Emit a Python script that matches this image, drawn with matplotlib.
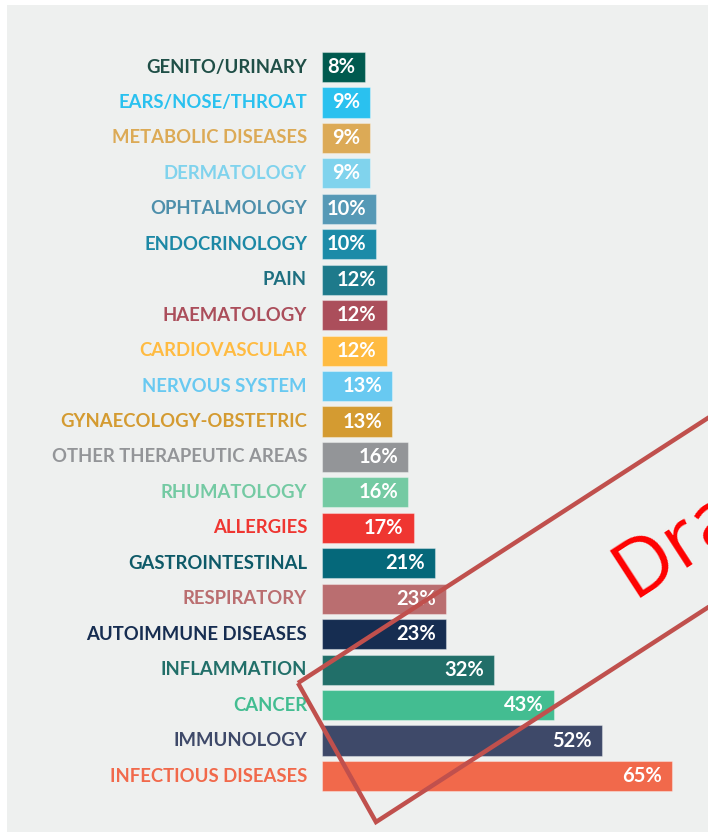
import matplotlib
matplotlib.use("Agg")
import matplotlib.pyplot as plt
import matplotlib.transforms as mtransforms
from matplotlib.patches import Rectangle, Polygon
import numpy as np

categories = [
    "GENITO/URINARY", "EARS/NOSE/THROAT", "METABOLIC DISEASES", "DERMATOLOGY",
    "OPHTALMOLOGY", "ENDOCRINOLOGY", "PAIN", "HAEMATOLOGY", "CARDIOVASCULAR",
    "NERVOUS SYSTEM", "GYNAECOLOGY-OBSTETRIC", "OTHER THERAPEUTIC AREAS",
    "RHUMATOLOGY", "ALLERGIES", "GASTROINTESTINAL", "RESPIRATORY",
    "AUTOIMMUNE DISEASES", "INFLAMMATION", "CANCER", "IMMUNOLOGY",
    "INFECTIOUS DISEASES",
]
values = [8, 9, 9, 9, 10, 10, 12, 12, 12, 13, 13, 16, 16, 17, 21, 23, 23, 32, 43, 52, 65]
bar_colors = [
    "#005a4f", "#2ac1ef", "#dcaa56", "#80d3ed", "#5699b6", "#1c8ba8", "#1e7a8b",
    "#ab4e5b", "#ffbb41", "#68c9f1", "#d49b31", "#939598", "#74caa3", "#ef3631",
    "#05687a", "#ba6e70", "#162d51", "#216f69", "#43bd91", "#3e4969", "#f1694b",
]
label_colors = [
    "#1f4f47", "#2ac1ef", "#dcaa56", "#80d3ed", "#4d8fab", "#1c88a5", "#1e6f80",
    "#ab4e5b", "#ffbb41", "#68c9f1", "#d49b31", "#939598", "#74caa3", "#ef3631",
    "#0e5a68", "#ba6e70", "#162d51", "#216f69", "#43bd91", "#3e4969", "#f1694b",
]

W, H = 708, 832
fig = plt.figure(figsize=(W / 100, H / 100), dpi=100)
fig.patch.set_facecolor("white")

def px(x, y):
    return (x / W, 1 - y / H)

# light gray panel
fig.patches.append(Rectangle(px(7, 832), (W - 7) / W, (832 - 5) / H,
                             transform=fig.transFigure, facecolor="#eef0ef",
                             edgecolor="none", zorder=-5))

ax = fig.add_axes([0, 0, 1, 1], zorder=1)
ax.set_facecolor("none")
scale = 5.385  # px per percent
ax.set_xlim(-322 / scale, (W - 322) / scale)
step = 35.45
ax.set_ylim((H - 67) / step, -67 / step)
ax.axis("off")

ypos = list(range(len(categories)))
ax.barh(ypos, values, height=0.85, color=bar_colors,
        edgecolor=(1, 1, 1, 0.35), linewidth=0.8, zorder=2)

font = "Lato"
lab_tr = mtransforms.offset_copy(ax.transData, fig=fig, x=-15, y=0, units="dots")
val_tr = mtransforms.offset_copy(ax.transData, fig=fig, x=-10, y=0, units="dots")
for i, (c, v) in enumerate(zip(categories, values)):
    ax.text(0, i, c, transform=lab_tr, ha="right", va="center",
            fontsize=13.3, fontweight="bold", color=label_colors[i],
            family=font, zorder=3)
    ax.text(v, i, f"{v}%", transform=val_tr, ha="right", va="center",
            fontsize=14.5, fontweight="bold", color="white", family=font, zorder=3)

# "Draft" stamp
d = np.array([0.84, -0.543])
L = np.array([298, 683.0])
B = np.array([376, 822.0])
T = L + 700 * d
R = B + 700 * d
poly = [px(*L), px(*B), px(*R), px(*T)]
fig.patches.append(Polygon(poly, closed=True, transform=fig.transFigure,
                           fill=False, edgecolor="#c0504d", linewidth=3.2,
                           joinstyle="miter", zorder=5))
fig.text(*px(633, 598), "Draft", transform=fig.transFigure, rotation=33,
         rotation_mode="anchor", ha="left", va="baseline", color="#ff0000",
         fontsize=57, family="Open Sans", zorder=6)

fig.savefig("out.png", dpi=100)
